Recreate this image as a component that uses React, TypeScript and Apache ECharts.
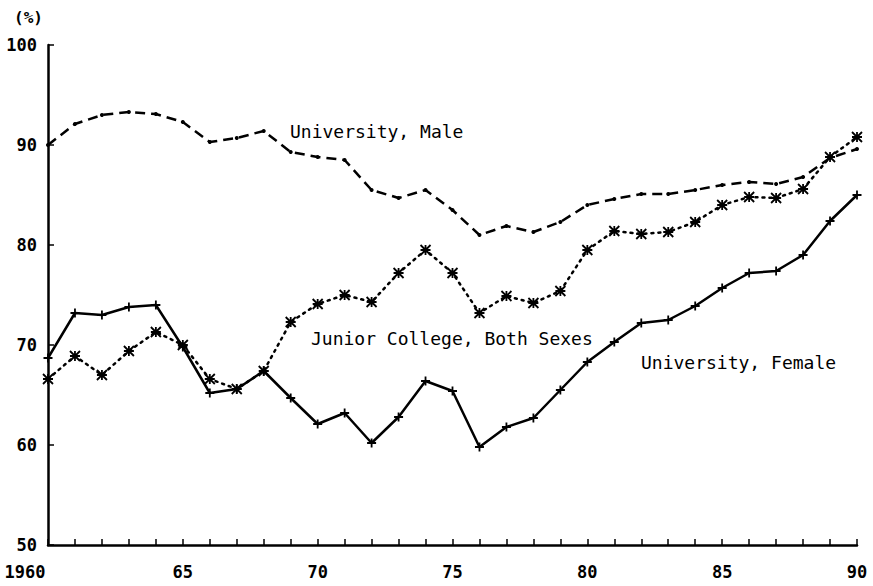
import React, { useEffect, useRef } from "react";
import * as echarts from "echarts";

const years: number[] = [
  1960, 1961, 1962, 1963, 1964, 1965, 1966, 1967, 1968, 1969, 1970, 1971, 1972, 1973, 1974, 1975,
  1976, 1977, 1978, 1979, 1980, 1981, 1982, 1983, 1984, 1985, 1986, 1987, 1988, 1989, 1990,
];
const universityMale: number[] = [
  90.0, 92.1, 93.0, 93.3, 93.1, 92.3, 90.3, 90.7, 91.4, 89.3, 88.8, 88.5, 85.5, 84.7, 85.5, 83.5,
  81.0, 81.9, 81.3, 82.3, 84.0, 84.6, 85.1, 85.1, 85.5, 86.0, 86.3, 86.1, 86.8, 88.7, 89.6,
];
const juniorCollege: number[] = [
  66.6, 68.9, 67.0, 69.4, 71.3, 70.0, 66.6, 65.6, 67.4, 72.3, 74.1, 75.0, 74.3, 77.2, 79.5, 77.2,
  73.2, 74.9, 74.2, 75.4, 79.5, 81.4, 81.1, 81.3, 82.3, 84.0, 84.8, 84.7, 85.6, 88.8, 90.8,
];
const universityFemale: number[] = [
  68.7, 73.2, 73.0, 73.8, 74.0, 69.8, 65.2, 65.6, 67.4, 64.7, 62.1, 63.2, 60.2, 62.8, 66.4, 65.4,
  59.8, 61.8, 62.7, 65.5, 68.3, 70.3, 72.2, 72.5, 73.9, 75.7, 77.2, 77.4, 79.0, 82.4, 85.0,
];
const seriesNames: string[] = ["University, Male", "Junior College, Both Sexes", "University, Female"];
const yUnit = "(%)";

const FONT = "'DejaVu Sans Mono', monospace";

const App: React.FC = () => {
  const ref = useRef<HTMLDivElement>(null);

  useEffect(() => {
    document.body.style.margin = "0";
    if (!ref.current) return;
    const chart = echarts.init(ref.current, undefined, { renderer: "svg" });
    const pairs = (vals: number[]) => years.map((y, i) => [y, vals[i]]);
    const asterisk = "path://M0,0L10,10M10,0L0,10M5,0L5,10M0,5L10,5";
    const plus = "path://M0,5L10,5M5,0L5,10";

    chart.setOption({
      animation: false,
      backgroundColor: "#fff",
      grid: { left: 48, right: 16, top: 45, bottom: 41, containLabel: false },
      xAxis: {
        type: "value",
        min: 1960,
        max: 1990,
        interval: 5,
        axisLine: { show: true, lineStyle: { color: "#000", width: 2.5 } },
        axisTick: { show: true, inside: true, length: 6, lineStyle: { color: "#000", width: 1.5 } },
        minorTick: { show: true, splitNumber: 5, length: 6, lineStyle: { color: "#000", width: 1.5 } },
        splitLine: { show: false },
        minorSplitLine: { show: false },
        axisLabel: {
          color: "#000",
          fontFamily: FONT,
          fontSize: 17,
          fontWeight: "bold",
          margin: 18,
          formatter: (v: number) => (v === 1960 ? "{a|1960}" : "{b|" + String(v % 100) + "}"),
          rich: {
            a: { fontFamily: FONT, fontSize: 17, fontWeight: "bold", color: "#000", padding: [0, 46, 0, 0] },
            b: { fontFamily: FONT, fontSize: 17, fontWeight: "bold", color: "#000" },
          },
        },
      },
      yAxis: {
        type: "value",
        min: 50,
        max: 100,
        interval: 10,
        axisLine: { show: true, lineStyle: { color: "#000", width: 2.5 } },
        axisTick: { show: true, inside: true, length: 6, lineStyle: { color: "#000", width: 1.5 } },
        splitLine: { show: false },
        axisLabel: { color: "#000", fontFamily: FONT, fontSize: 17, fontWeight: "bold", margin: 11 },
      },
      series: [
        {
          name: seriesNames[0],
          type: "line",
          data: pairs(universityMale),
          symbol: "circle",
          symbolSize: 4,
          itemStyle: { color: "#000" },
          lineStyle: { color: "#000", width: 2.5, type: [10, 6] },
        },
        {
          name: seriesNames[1],
          type: "line",
          data: pairs(juniorCollege),
          symbol: asterisk,
          symbolSize: 10,
          itemStyle: { color: "#000", borderColor: "#000", borderWidth: 1.8 },
          lineStyle: { color: "#000", width: 2.5, type: [2, 5], cap: "round" },
        },
        {
          name: seriesNames[2],
          type: "line",
          data: pairs(universityFemale),
          symbol: plus,
          symbolSize: 9,
          itemStyle: { color: "#000", borderColor: "#000", borderWidth: 1.8 },
          lineStyle: { color: "#000", width: 2.5 },
        },
      ],
      graphic: [
        {
          type: "text",
          x: 14,
          y: 17,
          style: { text: yUnit, font: `bold 16px ${FONT}`, fill: "#000", verticalAlign: "middle" },
        },
        {
          type: "text",
          x: 290,
          y: 131,
          style: { text: seriesNames[0], font: `18px ${FONT}`, fill: "#000", verticalAlign: "middle" },
        },
        {
          type: "text",
          x: 311,
          y: 338,
          style: { text: seriesNames[1], font: `18px ${FONT}`, fill: "#000", verticalAlign: "middle" },
        },
        {
          type: "text",
          x: 641,
          y: 362,
          style: { text: seriesNames[2], font: `18px ${FONT}`, fill: "#000", verticalAlign: "middle" },
        },
      ],
    });
    return () => chart.dispose();
  }, []);

  return <div ref={ref} style={{ width: 873, height: 586 }} />;
};

export default App;
